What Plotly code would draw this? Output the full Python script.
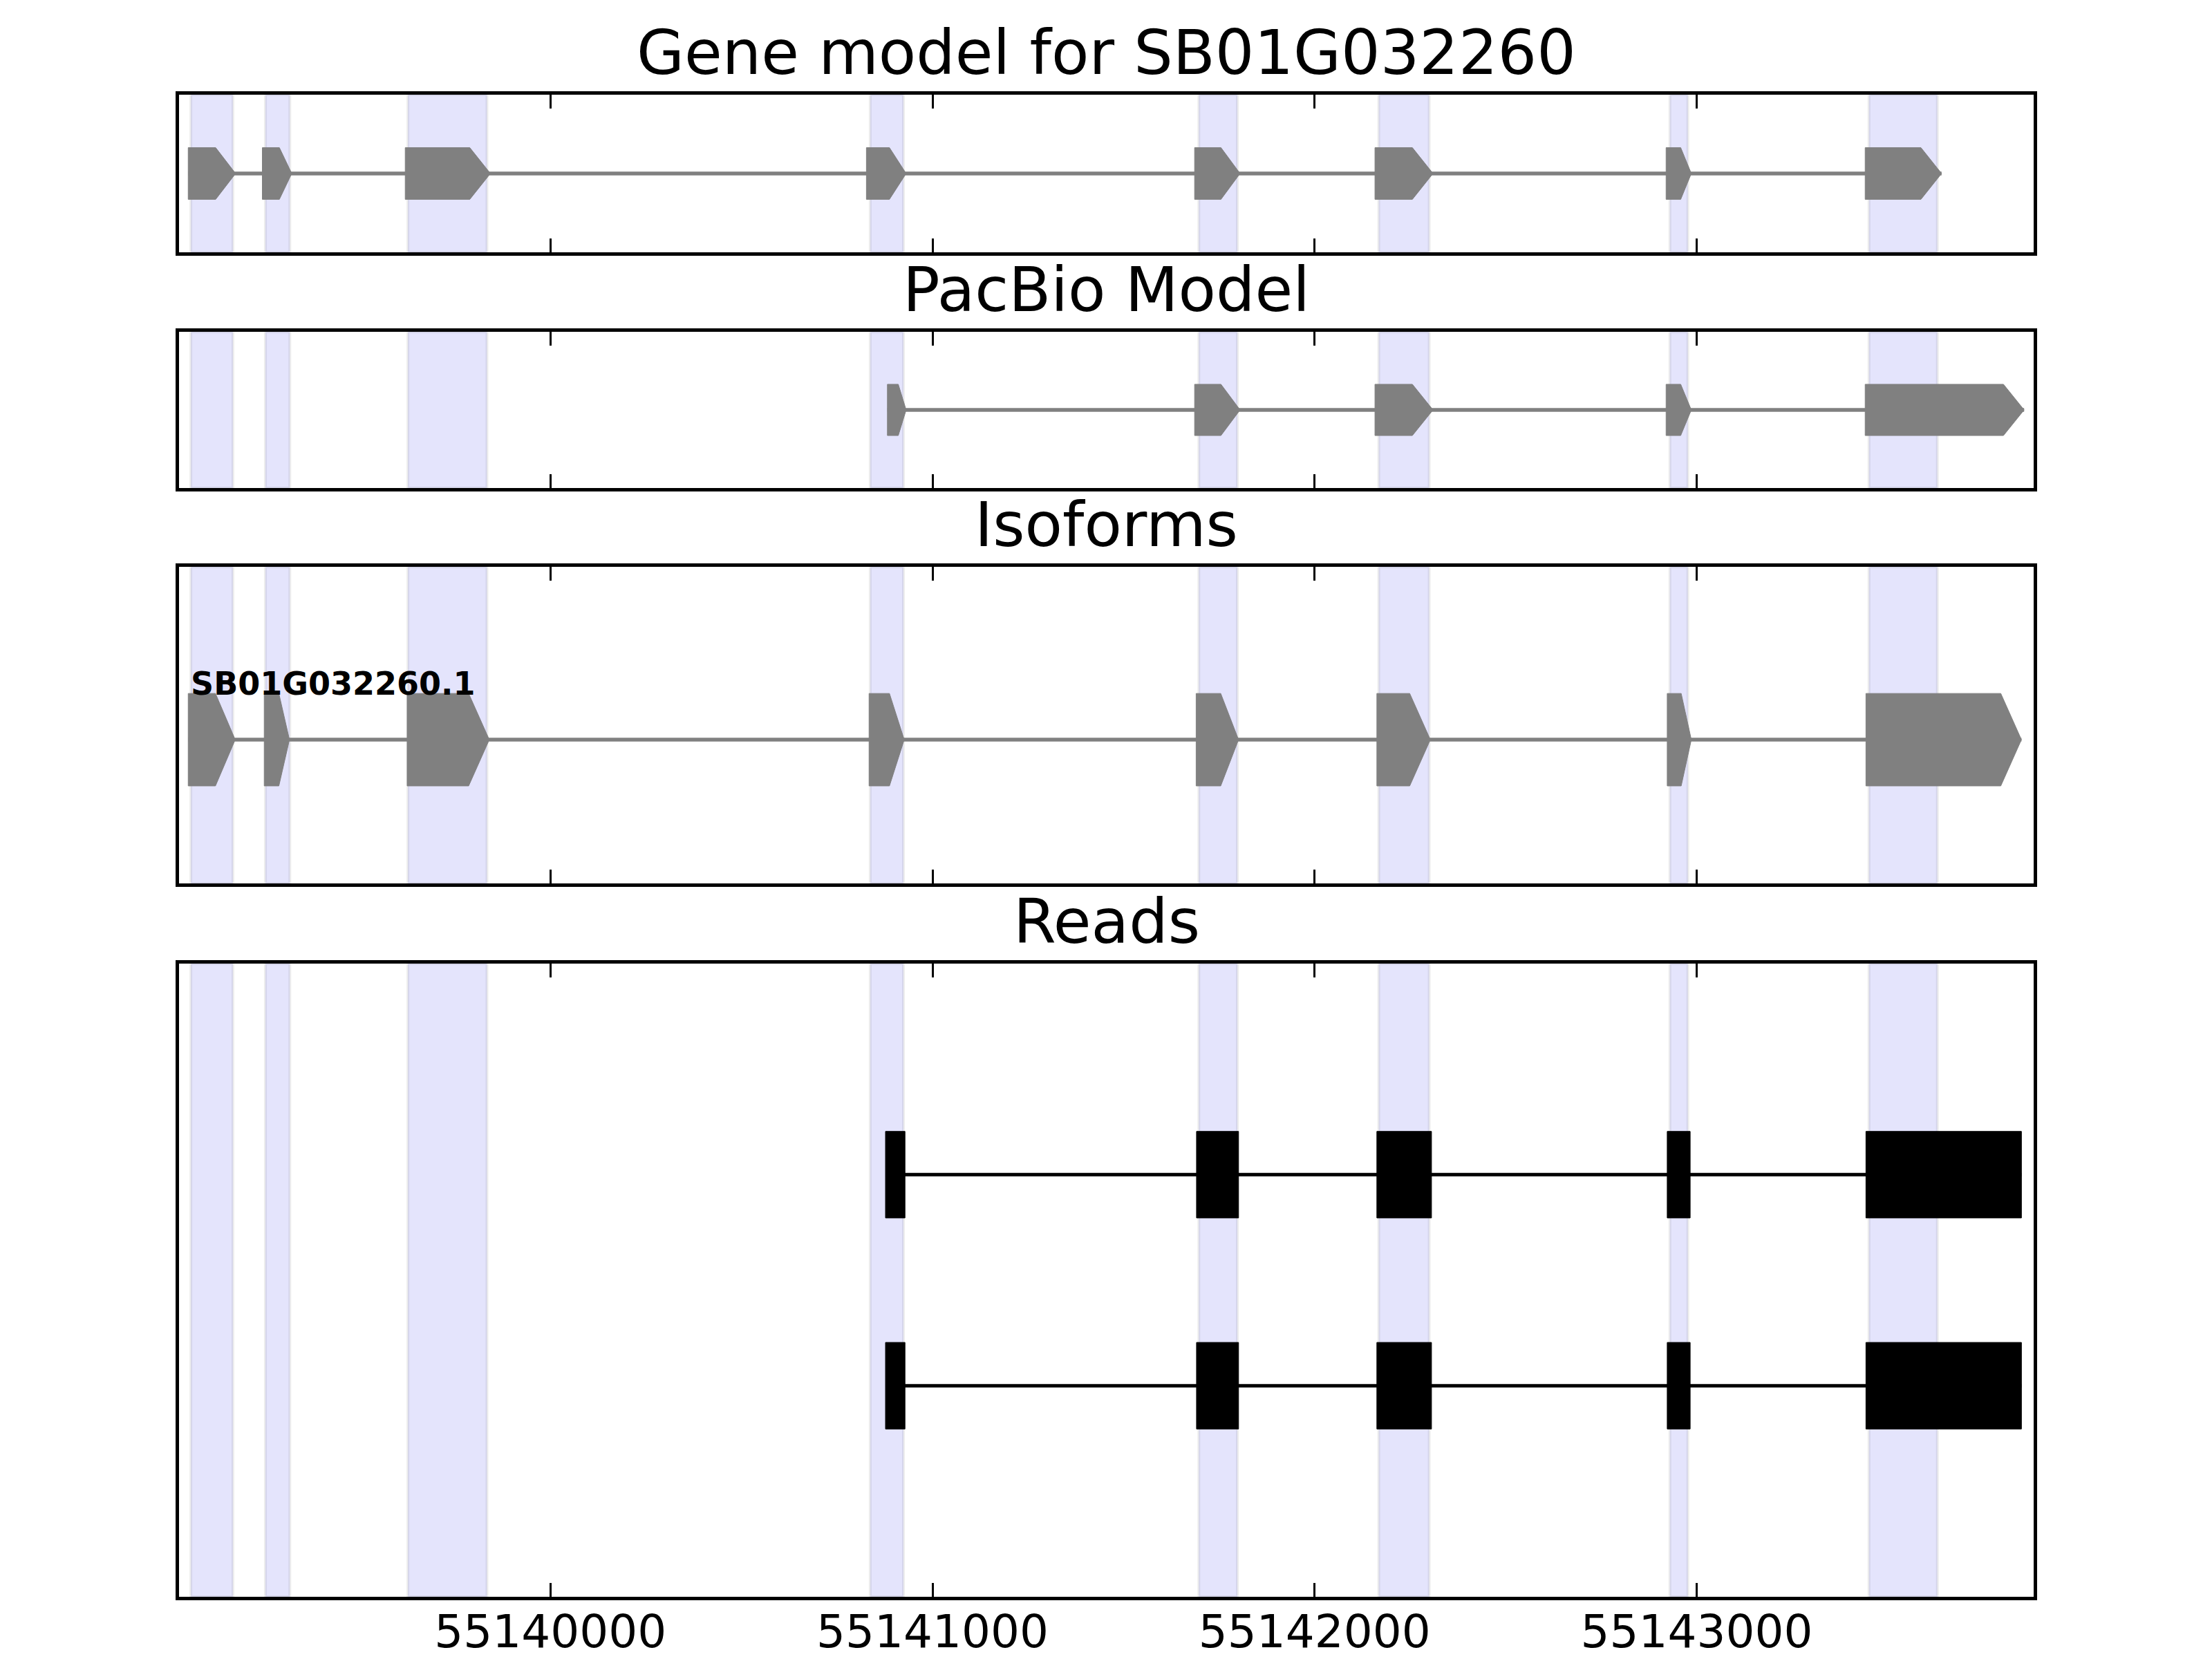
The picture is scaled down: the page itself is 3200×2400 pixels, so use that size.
import plotly.graph_objects as go

# ---------------- data ----------------
panel_titles = ["Gene model for SB01G032260", "PacBio Model", "Isoforms", "Reads"]
isoform_names = ["SB01G032260.1"]

gene_exon_starts = [55139052, 55139246, 55139620, 55140827, 55141686, 55142158, 55142920, 55143441]
gene_exon_ends = [55139176, 55139323, 55139843, 55140931, 55141805, 55142310, 55142986, 55143641]

shade_starts = [55139059, 55139254, 55139627, 55140837, 55141697, 55142168, 55142930, 55143451]
shade_ends = [55139169, 55139318, 55139834, 55140924, 55141798, 55142300, 55142977, 55143630]

pacbio_starts = [55140882, 55141686, 55142158, 55142920, 55143441]
pacbio_ends = [55140931, 55141805, 55142310, 55142986, 55143857]

iso_starts = [55139052, 55139251, 55139625, 55140834, 55141690, 55142163, 55142923, 55143443]
iso_ends = [55139175, 55139317, 55139840, 55140926, 55141801, 55142303, 55142986, 55143850]

read_starts = [
    [55140877, 55141691, 55142163, 55142923, 55143443],
    [55140877, 55141691, 55142163, 55142923, 55143443],
]
read_ends = [
    [55140928, 55141801, 55142306, 55142983, 55143850],
    [55140928, 55141801, 55142306, 55142983, 55143850],
]
read_rows = [1, 2]

tick_values = [55140000, 55141000, 55142000, 55143000]
tick_labels = ["55140000", "55141000", "55142000", "55143000"]

x_range = [55139028, 55143882]

# ---------------- style ----------------
FONT = "DejaVu Sans"
GRAY = "#808080"
W, H = 3200, 2400
# plot area inner edges in page pixels
PL, PR, PT, PB = 259, 2942, 137, 2310
ML, MR, MT, MB = PL, W - PR, PT, H - PB


def paper_y(page_px):
    return (PB - page_px) / (PB - PT)


def ydom(top_px, bottom_px):
    return [paper_y(bottom_px), paper_y(top_px)]


domains = [ydom(137, 365), ydom(480, 706), ydom(820, 1278), ydom(1394, 2310)]
y_ranges = [[0, 1], [0, 1], [0, 1], [3, 0]]


def arrow_polys(starts, ends, yc, half):
    xs, ys = [], []
    for s, e in zip(starts, ends):
        tip = min(54, 0.42 * (e - s))
        xs += [s, e - tip, e, e - tip, s, s, None]
        ys += [yc - half, yc - half, yc, yc + half, yc + half, yc - half, None]
    return xs, ys


def rect_polys(starts, ends, yc, half):
    xs, ys = [], []
    for s, e in zip(starts, ends):
        xs += [s, e, e, s, s, None]
        ys += [yc - half, yc - half, yc + half, yc + half, yc - half, None]
    return xs, ys


fig = go.Figure()


def add_track(starts, ends, yc, half, row, color, arrows=True, lw=5.5):
    xa, ya = ("x", "y") if row == 1 else (f"x{row}", f"y{row}")
    fig.add_trace(go.Scatter(x=[min(starts), max(ends)], y=[yc, yc], mode="lines",
                             line=dict(color=color, width=lw), xaxis=xa, yaxis=ya,
                             hoverinfo="skip", showlegend=False))
    if arrows:
        px, py = arrow_polys(starts, ends, yc, half)
    else:
        px, py = rect_polys(starts, ends, yc, half)
    fig.add_trace(go.Scatter(x=px, y=py, mode="lines", fill="toself", fillcolor=color,
                             line=dict(color=color, width=1), xaxis=xa, yaxis=ya,
                             hoverinfo="skip", showlegend=False))


add_track(gene_exon_starts, gene_exon_ends, 0.5, 0.164, 1, GRAY)
add_track(pacbio_starts, pacbio_ends, 0.5, 0.164, 2, GRAY)
add_track(iso_starts, iso_ends, 0.454, 0.146, 3, GRAY)
for r, s, e in zip(read_rows, read_starts, read_ends):
    add_track(s, e, r, 0.205, 4, "black", arrows=False, lw=5)

# isoform label
fig.add_annotation(x=iso_starts[0], y=0.454 + 0.146, xref="x3", yref="y3",
                   text="<b>" + isoform_names[0] + "</b>", showarrow=False,
                   xanchor="left", yanchor="bottom", yshift=-15, xshift=2,
                   font=dict(family=FONT, size=46, color="black"))

# shaded exon regions
for row in range(1, 5):
    xr = "x" if row == 1 else f"x{row}"
    yr = ("y" if row == 1 else f"y{row}") + " domain"
    for s, e in zip(shade_starts, shade_ends):
        fig.add_shape(type="rect", xref=xr, yref=yr, x0=s, x1=e, y0=0, y1=1,
                      fillcolor="#E4E4FC", line=dict(color="rgba(128,128,128,0.14)", width=4),
                      layer="below")

# titles (cap-centre in page pixels)
title_px = [76, 419, 759, 1333]
for t, ypx in zip(panel_titles, title_px):
    fig.add_annotation(x=0.5, y=paper_y(ypx), xref="paper", yref="paper",
                       text=t, showarrow=False, xanchor="center", yanchor="middle",
                       font=dict(family=FONT, size=89, color="black"))

layout = dict(width=W, height=H,
              margin=dict(l=ML, r=MR, t=MT, b=MB, pad=0, autoexpand=False),
              plot_bgcolor="white", paper_bgcolor="white", showlegend=False)
for i in range(1, 5):
    xk = "xaxis" if i == 1 else f"xaxis{i}"
    yk = "yaxis" if i == 1 else f"yaxis{i}"
    layout[xk] = dict(domain=[0, 1], anchor="y" if i == 1 else f"y{i}", range=x_range,
                      tickvals=tick_values, ticktext=tick_labels, showticklabels=(i == 4),
                      ticks="inside", ticklen=20, tickwidth=3, tickcolor="black",
                      showline=True, linewidth=5, linecolor="black", mirror="ticks",
                      showgrid=False, zeroline=False, automargin=False,
                      ticklabelstandoff=-11,
                      tickfont=dict(family=FONT, size=66, color="black"))
    layout[yk] = dict(domain=domains[i - 1], anchor="x" if i == 1 else f"x{i}",
                      range=y_ranges[i - 1], showline=True, linewidth=5, linecolor="black",
                      mirror=True, ticks="", showticklabels=False, showgrid=False,
                      zeroline=False, automargin=False)
fig.update_layout(**layout)

fig.write_html("out.html", config={"displayModeBar": False},
               post_script="document.body.style.margin='0';document.body.style.overflow='hidden';")
